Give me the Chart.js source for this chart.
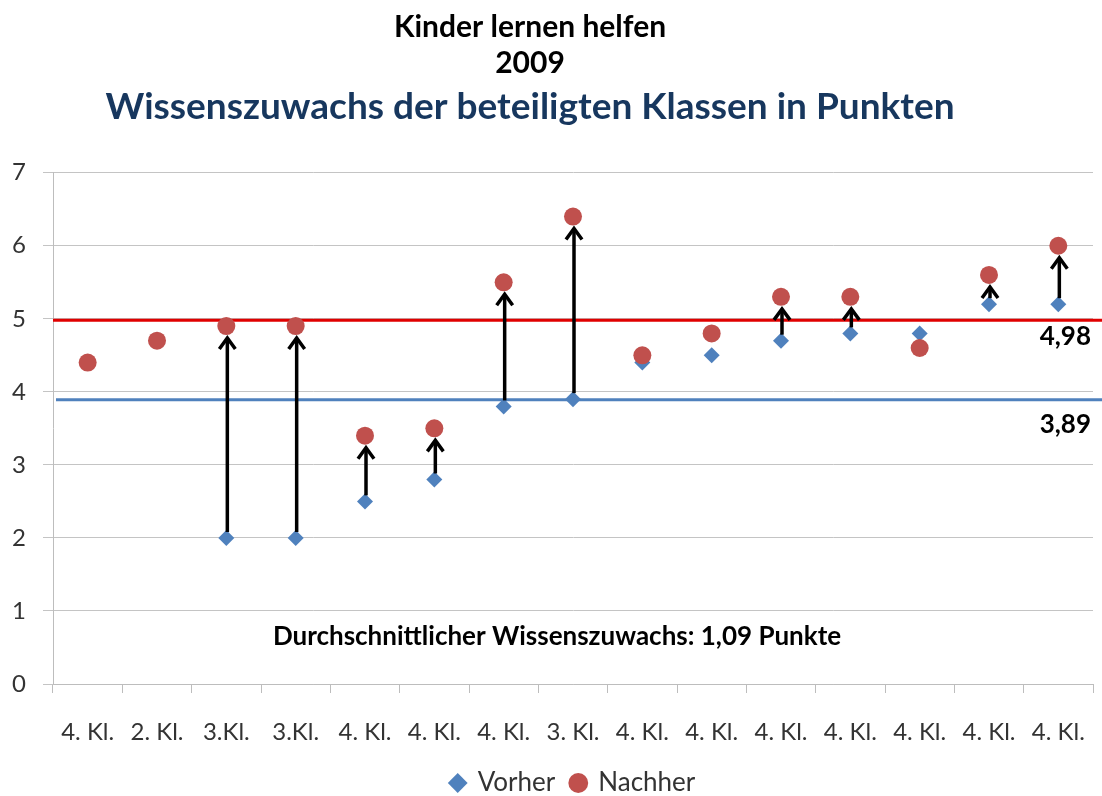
<!DOCTYPE html>
<html>
<head>
<meta charset="utf-8">
<script src="https://cdn.jsdelivr.net/npm/chart.js@4"></script>
<style>
  html, body { margin: 0; padding: 0; background: #fff; }
  #wrap { width: 1102px; height: 796px; }
</style>
</head>
<body>
<div id="wrap"><canvas id="chart"></canvas></div>
<script>
// Klassen und Punkte
const classes = ['4. Kl.', '2. Kl.', '3.Kl.', '3.Kl.', '4. Kl.', '4. Kl.', '4. Kl.', '3. Kl.',
                 '4. Kl.', '4. Kl.', '4. Kl.', '4. Kl.', '4. Kl.', '4. Kl.', '4. Kl.'];
const vorher  = [null, null, 2.0, 2.0, 2.5, 2.8, 3.8, 3.9, 4.4, 4.5, 4.7, 4.8, 4.8, 5.2, 5.2];
const nachher = [4.4, 4.7, 4.9, 4.9, 3.4, 3.5, 5.5, 6.4, 4.5, 4.8, 5.3, 5.3, 4.6, 5.6, 6.0];
const arrowIdx = [2, 3, 4, 5, 6, 7, 10, 11, 13, 14];   // Klassen mit Pfeil
const avgVorher = 3.89;
const avgNachher = 4.98;
const yTicks = [0, 1, 2, 3, 4, 5, 6, 7];

const FONT = 'Lato, "Open Sans", sans-serif';

// Durchschnittslinien hinter den Punkten
const avgLines = {
  id: 'avgLines',
  beforeDatasetsDraw(chart) {
    const { ctx, chartArea, scales: { y } } = chart;
    ctx.save();
    ctx.lineWidth = 3;
    ctx.strokeStyle = '#e00000';
    let py = y.getPixelForValue(avgNachher);
    ctx.beginPath(); ctx.moveTo(chartArea.left, py); ctx.lineTo(chart.width, py); ctx.stroke();
    ctx.strokeStyle = '#4f81bd';
    py = y.getPixelForValue(avgVorher);
    ctx.beginPath(); ctx.moveTo(chartArea.left + 3, py); ctx.lineTo(chart.width, py); ctx.stroke();
    ctx.restore();
  }
};

// Pfeile, Wertbeschriftungen und Hinweistext
const arrows = {
  id: 'arrows',
  afterDatasetsDraw(chart) {
    const { ctx, chartArea, scales: { x, y } } = chart;
    ctx.save();
    ctx.strokeStyle = '#000';
    ctx.lineWidth = 3.5;
    arrowIdx.forEach(i => {
      const px = x.getPixelForValue(i) + 1;
      const y0 = y.getPixelForValue(vorher[i]) - 6;
      const y1 = y.getPixelForValue(nachher[i]) + 12;
      ctx.beginPath(); ctx.moveTo(px, y0); ctx.lineTo(px, y1 + 2); ctx.stroke();
      ctx.beginPath();
      ctx.moveTo(px - 8, y1 + 11); ctx.lineTo(px, y1); ctx.lineTo(px + 8, y1 + 11);
      ctx.stroke();
    });

    ctx.fillStyle = '#000';
    ctx.font = 'bold 26px ' + FONT;
    ctx.textAlign = 'right';
    ctx.textBaseline = 'middle';
    ctx.fillText('4,98', 1091, y.getPixelForValue(avgNachher) + 16);
    ctx.fillText('3,89', 1091, y.getPixelForValue(avgVorher) + 25);

    ctx.textAlign = 'center';
    ctx.fillText('Durchschnittlicher Wissenszuwachs: 1,09 Punkte',
      (chartArea.left + chartArea.right) / 2 - 16, y.getPixelForValue(0.65));
    ctx.restore();
  }
};

new Chart(document.getElementById('chart').getContext('2d'), {
  type: 'line',
  data: {
    labels: classes,
    datasets: [
      {
        label: 'Vorher',
        data: vorher,
        showLine: false,
        pointStyle: 'rectRot',
        pointRadius: 8,
        pointHoverRadius: 8,
        backgroundColor: '#4f81bd',
        borderColor: '#4f81bd',
        borderWidth: 0,
        order: 1
      },
      {
        label: 'Nachher',
        data: nachher,
        showLine: false,
        pointStyle: 'circle',
        pointRadius: 9,
        pointHoverRadius: 9,
        backgroundColor: '#c0504d',
        borderColor: '#c0504d',
        borderWidth: 0,
        order: 0
      }
    ]
  },
  options: {
    responsive: true,
    maintainAspectRatio: false,
    animation: false,
    layout: { padding: { left: -35, right: 7, top: 0, bottom: -10 } },
    scales: {
      x: {
        offset: true,
        afterFit(scale) {
          scale.height = 70;
          scale.paddingLeft = 0;
          scale.paddingRight = 0;
        },
        grid: { offset: true, drawOnChartArea: false, drawTicks: true, tickLength: 9, color: '#bdbdbd' },
        border: { color: '#bdbdbd' },
        ticks: { color: '#333', font: { family: FONT, size: 24 }, maxRotation: 0, autoSkip: false, padding: 25 }
      },
      y: {
        min: 0,
        max: 7,
        afterBuildTicks(scale) { scale.ticks = yTicks.map(v => ({ value: v })); },
        afterFit(scale) { scale.width = 88; },
        grid: { color: '#c4c4c4', tickLength: 10 },
        border: { color: '#bdbdbd' },
        ticks: { color: '#333', font: { family: FONT, size: 24 }, padding: 17 }
      }
    },
    plugins: {
      title: {
        display: true,
        text: ['Kinder lernen helfen', '2009'],
        color: '#000',
        font: { family: FONT, size: 30, weight: 'bold', lineHeight: 1.2 },
        padding: { top: 9, bottom: 6 }
      },
      subtitle: {
        display: true,
        text: 'Wissenszuwachs der beteiligten Klassen in Punkten',
        color: '#17375e',
        font: { family: FONT, size: 37, weight: 'bold', lineHeight: 1.1 },
        padding: { top: 0, bottom: 45 }
      },
      legend: {
        position: 'bottom',
        fullSize: false,
        labels: {
          usePointStyle: true,
          boxWidth: 14,
          boxHeight: 14,
          color: '#333',
          font: { family: FONT, size: 26 },
          padding: 16,
          sort: (a, b) => a.datasetIndex - b.datasetIndex
        }
      },
      tooltip: { enabled: false }
    }
  },
  plugins: [avgLines, arrows]
});
</script>
</body>
</html>
